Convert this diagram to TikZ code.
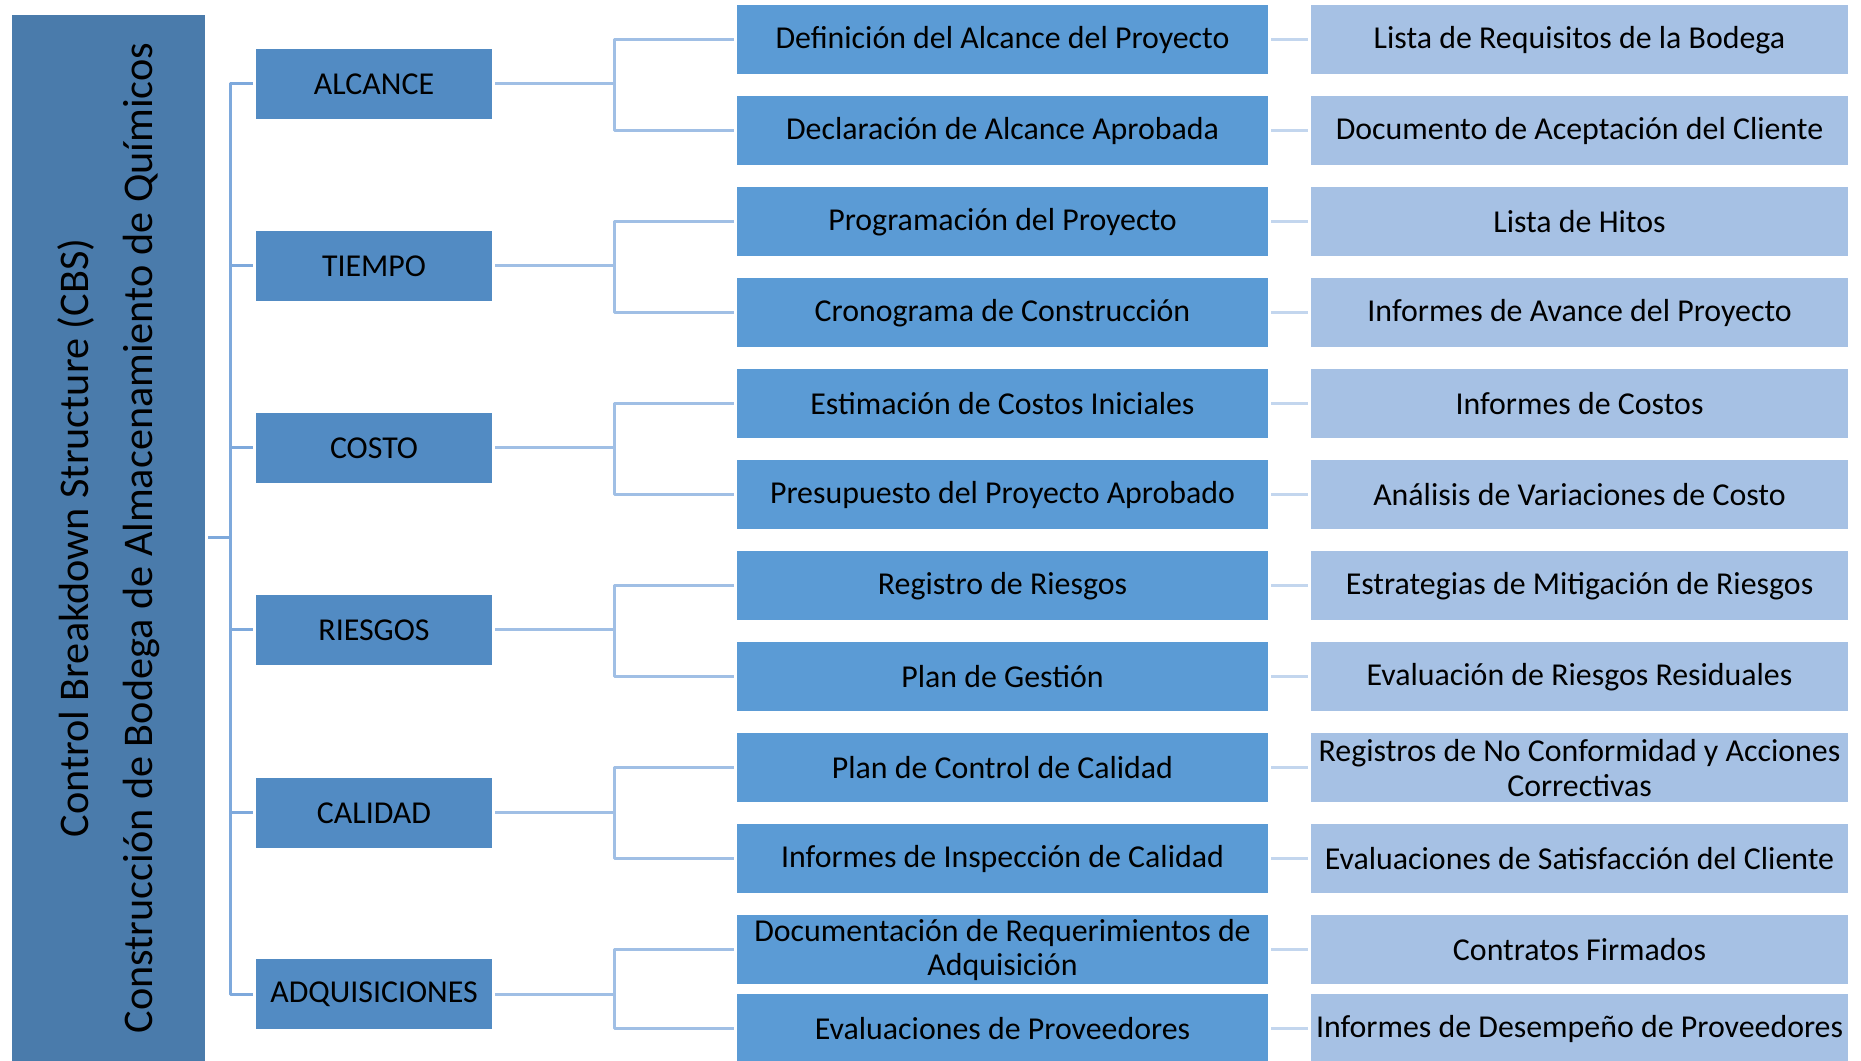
\documentclass[tikz,border=0pt]{standalone}
\usepackage{fontspec}
\setmainfont{Carlito}
\definecolor{rootblue}{HTML}{4A7BAB}
\definecolor{catblue}{HTML}{528BC3}
\definecolor{subblue}{HTML}{5B9BD5}
\definecolor{resblue}{HTML}{A6C1E4}
\definecolor{linkA}{HTML}{7EA9DC}
\definecolor{linkB}{HTML}{A0BFE5}
\definecolor{linkC}{HTML}{C3D6EE}
\begin{document}
\begin{tikzpicture}[>=latex,line join=bevel,
  rootbox/.style={fill=rootblue,rotate=90,minimum width=523bp,minimum height=96.5bp,inner sep=0pt,outer sep=1.5bp,align=center,font=\fontsize{21.2}{32}\selectfont},
  catbox/.style={fill=catblue,minimum width=118bp,minimum height=35bp,inner sep=0pt,outer sep=1.5bp,font=\fontsize{16}{17.5}\selectfont},
  subbox/.style={fill=subblue,minimum width=265.5bp,minimum height=34.5bp,inner sep=0pt,outer sep=1.5bp,align=center,font=\fontsize{16}{17.5}\selectfont},
  resbox/.style={fill=resblue,minimum width=268.5bp,minimum height=34.5bp,inner sep=0pt,outer sep=1.5bp,align=center,font=\fontsize{16}{17.5}\selectfont},
  buslink/.style={draw=linkA,line width=1.5bp},
  sublink/.style={draw=linkB,line width=1.5bp},
  reslink/.style={draw=linkC,line width=1.5bp},
]
\useasboundingbox (0bp,0bp) rectangle (930.5bp,530.5bp);
%%
\node (node_0) at (54.25bp,261.5bp) [rootbox] {Control Breakdown Structure (CBS)\\Construcción de Bodega de Almacenamiento de Químicos};
%
\node (node_1) at (187bp,488.5bp) [catbox] {ALCANCE};
  \node (node_2) at (187bp,397.5bp) [catbox] {TIEMPO};
  \node (node_3) at (187bp,306.5bp) [catbox] {COSTO};
  \node (node_4) at (187bp,215.5bp) [catbox] {RIESGOS};
  \node (node_5) at (187bp,124bp) [catbox] {CALIDAD};
  \node (node_6) at (187bp,33.25bp) [catbox] {ADQUISICIONES};
%
\node (node_7) at (501.25bp,510.5bp) [subbox] {Definición del Alcance del Proyecto};
  \node (node_8) at (501.25bp,465bp) [subbox] {Declaración de Alcance Aprobada};
  \node (node_9) at (501.25bp,419.5bp) [subbox] {Programación del Proyecto};
  \node (node_10) at (501.25bp,374bp) [subbox] {Cronograma de Construcción};
  \node (node_11) at (501.25bp,328.5bp) [subbox] {Estimación de Costos Iniciales};
  \node (node_12) at (501.25bp,283bp) [subbox] {Presupuesto del Proyecto Aprobado};
  \node (node_13) at (501.25bp,237.5bp) [subbox] {Registro de Riesgos};
  \node (node_14) at (501.25bp,192bp) [subbox] {Plan de Gestión};
  \node (node_15) at (501.25bp,146.5bp) [subbox] {Plan de Control de Calidad};
  \node (node_16) at (501.25bp,101bp) [subbox] {Informes de Inspección de Calidad};
  \node (node_17) at (501.25bp,55.5bp) [subbox] {Documentación de Requerimientos de\\Adquisición};
  \node (node_18) at (501.25bp,16.25bp) [subbox] {Evaluaciones de Proveedores};
%
\node (node_19) at (789.75bp,510.5bp) [resbox] {Lista de Requisitos de la Bodega};
  \node (node_20) at (789.75bp,465bp) [resbox] {Documento de Aceptación del Cliente};
  \node (node_21) at (789.75bp,419.5bp) [resbox] {Lista de Hitos};
  \node (node_22) at (789.75bp,374bp) [resbox] {Informes de Avance del Proyecto};
  \node (node_23) at (789.75bp,328.5bp) [resbox] {Informes de Costos};
  \node (node_24) at (789.75bp,283bp) [resbox] {Análisis de Variaciones de Costo};
  \node (node_25) at (789.75bp,237.5bp) [resbox] {Estrategias de Mitigación de Riesgos};
  \node (node_26) at (789.75bp,192bp) [resbox] {Evaluación de Riesgos Residuales};
  \node (node_27) at (789.75bp,146.5bp) [resbox] {Registros de No Conformidad y Acciones\\Correctivas};
  \node (node_28) at (789.75bp,101bp) [resbox] {Evaluaciones de Satisfacción del Cliente};
  \node (node_29) at (789.75bp,55.5bp) [resbox] {Contratos Firmados};
  \node (node_30) at (789.75bp,16.25bp) [resbox] {Informes de Desempeño de Proveedores};
%%
\coordinate (bus_0) at (115bp,261.5bp);
  \coordinate (bus_1) at (307bp,0bp);
  \draw [buslink] (node_0.south) -- (bus_0);
  \draw [buslink] (node_1.west) -- (bus_0 |- node_1.west) -- (bus_0 |- node_6.west) -- (node_6.west);
  \draw [buslink] (bus_0 |- node_2.west) -- (node_2.west);
  \draw [buslink] (bus_0 |- node_3.west) -- (node_3.west);
  \draw [buslink] (bus_0 |- node_4.west) -- (node_4.west);
  \draw [buslink] (bus_0 |- node_5.west) -- (node_5.west);
%
\draw [sublink] (node_1.east) -- (bus_1 |- node_1.east);
  \draw [sublink] (node_7.west) -- (bus_1 |- node_7.west) -- (bus_1 |- node_8.west) -- (node_8.west);
  \draw [sublink] (node_2.east) -- (bus_1 |- node_2.east);
  \draw [sublink] (node_9.west) -- (bus_1 |- node_9.west) -- (bus_1 |- node_10.west) -- (node_10.west);
  \draw [sublink] (node_3.east) -- (bus_1 |- node_3.east);
  \draw [sublink] (node_11.west) -- (bus_1 |- node_11.west) -- (bus_1 |- node_12.west) -- (node_12.west);
  \draw [sublink] (node_4.east) -- (bus_1 |- node_4.east);
  \draw [sublink] (node_13.west) -- (bus_1 |- node_13.west) -- (bus_1 |- node_14.west) -- (node_14.west);
  \draw [sublink] (node_5.east) -- (bus_1 |- node_5.east);
  \draw [sublink] (node_15.west) -- (bus_1 |- node_15.west) -- (bus_1 |- node_16.west) -- (node_16.west);
  \draw [sublink] (node_6.east) -- (bus_1 |- node_6.east);
  \draw [sublink] (node_17.west) -- (bus_1 |- node_17.west) -- (bus_1 |- node_18.west) -- (node_18.west);
%
\draw [reslink] (node_7.east) -- (node_19.west);
  \draw [reslink] (node_8.east) -- (node_20.west);
  \draw [reslink] (node_9.east) -- (node_21.west);
  \draw [reslink] (node_10.east) -- (node_22.west);
  \draw [reslink] (node_11.east) -- (node_23.west);
  \draw [reslink] (node_12.east) -- (node_24.west);
  \draw [reslink] (node_13.east) -- (node_25.west);
  \draw [reslink] (node_14.east) -- (node_26.west);
  \draw [reslink] (node_15.east) -- (node_27.west);
  \draw [reslink] (node_16.east) -- (node_28.west);
  \draw [reslink] (node_17.east) -- (node_29.west);
  \draw [reslink] (node_18.east) -- (node_30.west);
%
\end{tikzpicture}
\end{document}
